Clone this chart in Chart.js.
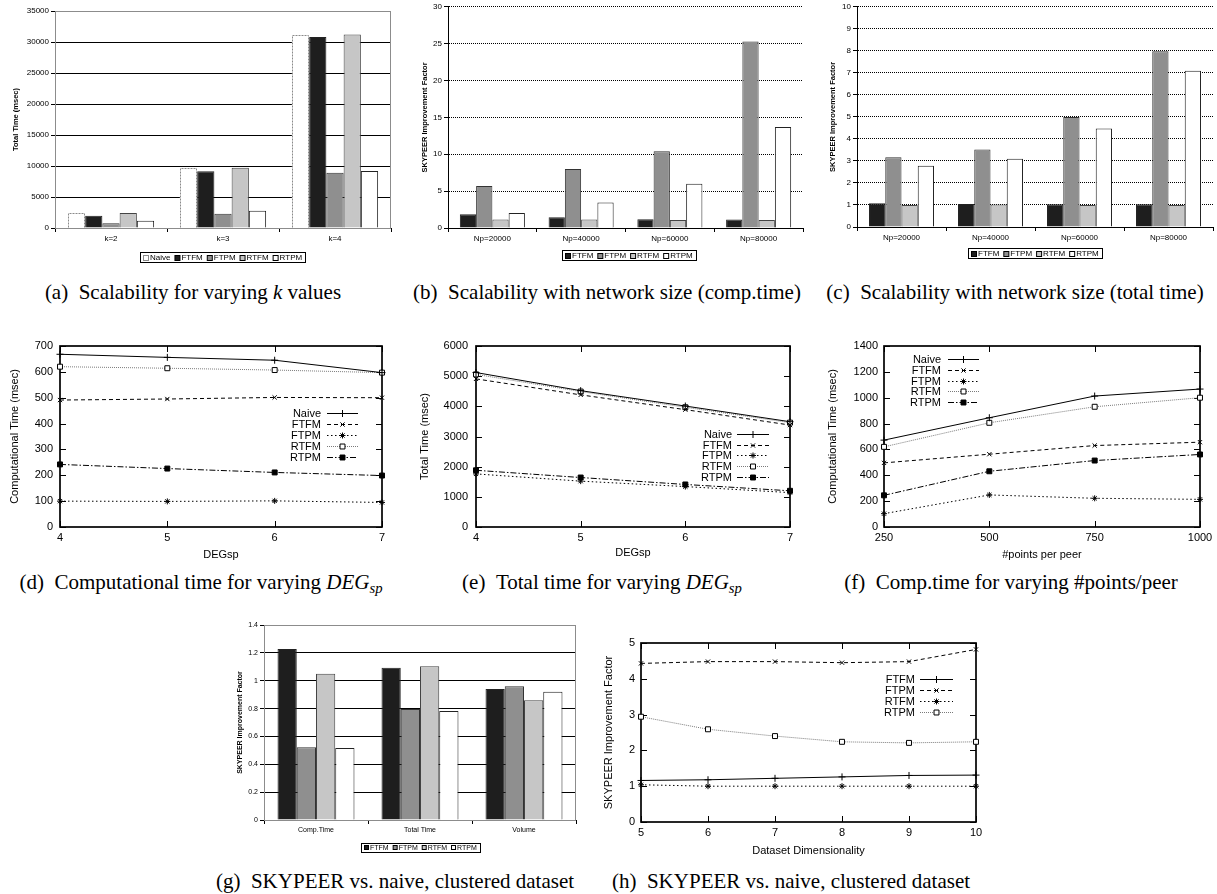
<!DOCTYPE html>
<html>
<head>
<meta charset="utf-8">
<script src="https://cdn.jsdelivr.net/npm/chart.js@4.4.0/dist/chart.umd.min.js"></script>
<style>
  body { margin: 0; background: #fff; }
  #page { position: relative; width: 1217px; height: 894px; overflow: hidden; background: #fff; }
  #page canvas { position: absolute; }
  .cap { position: absolute; font-family: "Liberation Serif", "Times New Roman", serif; font-size: 21px;
         line-height: 24px; white-space: nowrap; transform: translateX(-50%); color: #000; }
  .cap sub { font-size: 70%; vertical-align: -4px; line-height: 0; }
</style>
</head>
<body>
<div id="page">
  <canvas id="chA" width="400" height="268" style="left:0px;top:0px"></canvas>
  <canvas id="chB" width="406" height="268" style="left:400px;top:0px"></canvas>
  <canvas id="chC" width="411" height="268" style="left:806px;top:0px"></canvas>
  <canvas id="chD" width="400" height="240" style="left:0px;top:330px"></canvas>
  <canvas id="chE" width="405" height="240" style="left:400px;top:330px"></canvas>
  <canvas id="chF" width="412" height="240" style="left:805px;top:330px"></canvas>
  <canvas id="chG" width="355" height="245" style="left:225px;top:615px"></canvas>
  <canvas id="chH" width="400" height="228" style="left:590px;top:630px"></canvas>

  <div class="cap" style="left:193px;top:280px">(a)&ensp;Scalability for varying <i>k</i> values</div>
  <div class="cap" style="left:607px;top:280px">(b)&ensp;Scalability with network size (comp.time)</div>
  <div class="cap" style="left:1015px;top:280px">(c)&ensp;Scalability with network size (total time)</div>
  <div class="cap" style="left:201px;top:570px">(d)&ensp;Computational time for varying <i>DEG<sub>sp</sub></i></div>
  <div class="cap" style="left:602px;top:570px">(e)&ensp;Total time for varying <i>DEG<sub>sp</sub></i></div>
  <div class="cap" style="left:1011px;top:570px">(f)&ensp;Comp.time for varying #points/peer</div>
  <div class="cap" style="left:395px;top:869px">(g)&ensp;SKYPEER vs. naive, clustered dataset</div>
  <div class="cap" style="left:791px;top:869px">(h)&ensp;SKYPEER vs. naive, clustered dataset</div>
</div>
<script>
// ---- data ----
const kLabels = ["k=2", "k=3", "k=4"];
const aNaive = [2400, 9700, 31100];
const aFTFM = [1990, 9150, 30800];
const aFTPM = [750, 2300, 8900];
const aRTFM = [2400, 9700, 31200];
const aRTPM = [1150, 2780, 9200];

const npLabels = ["Np=20000", "Np=40000", "Np=60000", "Np=80000"];
const bFTFM = [1.85, 1.45, 1.2, 1.15];
const bFTPM = [5.7, 8.0, 10.4, 25.3];
const bRTFM = [1.15, 1.15, 1.1, 1.1];
const bRTPM = [2.05, 3.45, 6.0, 13.7];

const cFTFM = [1.08, 1.05, 1.03, 1.03];
const cFTPM = [3.17, 3.52, 5.0, 7.98];
const cRTFM = [1.0, 1.02, 1.0, 1.0];
const cRTPM = [2.78, 3.1, 4.47, 7.1];

const degX = [4, 5, 6, 7];
const dNaive = [668, 656, 645, 597];
const dFTFM = [491, 495, 501, 500];
const dFTPM = [100, 99, 101, 95];
const dRTFM = [620, 614, 607, 597];
const dRTPM = [242, 226, 211, 199];

const eNaive = [5120, 4520, 4010, 3490];
const eFTFM = [4910, 4380, 3890, 3380];
const eFTPM = [1760, 1520, 1340, 1140];
const eRTFM = [5060, 4490, 3970, 3460];
const eRTPM = [1880, 1640, 1410, 1200];

const ptsX = [250, 500, 750, 1000];
const fNaive = [672, 845, 1013, 1067];
const fFTFM = [496, 563, 630, 656];
const fFTPM = [103, 248, 222, 214];
const fRTFM = [620, 806, 930, 1000];
const fRTPM = [245, 431, 514, 561];

const gLabels = ["Comp.Time", "Total Time", "Volume"];
const gFTFM = [1.227, 1.093, 0.94];
const gFTPM = [0.522, 0.797, 0.96];
const gRTFM = [1.05, 1.103, 0.859];
const gRTPM = [0.517, 0.782, 0.921];

const dimX = [5, 6, 7, 8, 9, 10];
const hFTFM = [1.16, 1.18, 1.22, 1.26, 1.30, 1.31];
const hFTPM = [4.43, 4.48, 4.48, 4.45, 4.48, 4.82];
const hRTFM = [1.04, 1.0, 1.0, 1.0, 1.0, 1.0];
const hRTPM = [2.94, 2.59, 2.40, 2.24, 2.21, 2.24];

// ---- styles ----
const FONT = "'Liberation Sans', Arial, sans-serif";
const BAR = {
  Naive: { backgroundColor: "#ffffff", borderColor: "#8a8a8a", borderWidth: 0, dashedEdge: true },
  FTFM: { backgroundColor: "#1e1e1e", borderColor: "#222", borderWidth: 1 },
  FTPM: { backgroundColor: "#8f8f8f", borderColor: "#333", borderWidth: 1 },
  RTFM: { backgroundColor: "#c6c6c6", borderColor: "#444", borderWidth: 1 },
  RTPM: { backgroundColor: "#ffffff", borderColor: "#222", borderWidth: 1 },
};
const LINE = {
  solid: { borderColor: "#000", borderDash: [], pointStyle: "cross", pointRadius: 3.5, pointBackgroundColor: "#000" },
  dash: { borderColor: "#000", borderDash: [4, 3], pointStyle: "crossRot", pointRadius: 3, pointBackgroundColor: "#000" },
  dot: { borderColor: "#000", borderDash: [1.5, 2.5], pointStyle: "star", pointRadius: 3, pointBackgroundColor: "#000" },
  grey: { borderColor: "#7a7a7a", borderDash: [1, 1], pointStyle: "rect", pointRadius: 3.5, pointBackgroundColor: "#fff" },
  dashdot: { borderColor: "#000", borderDash: [6, 2, 1.5, 2], pointStyle: "rect", pointRadius: 3.5, pointBackgroundColor: "#000" },
};

// ---- plugins ----
// dotted outline for the Naive bars
const dashedEdge = {
  id: "dashedEdge",
  afterDatasetsDraw(chart) {
    const ctx = chart.ctx;
    chart.data.datasets.forEach((ds, i) => {
      if (!ds.dashedEdge) return;
      ctx.save();
      ctx.strokeStyle = ds.borderColor;
      ctx.lineWidth = 1;
      ctx.setLineDash([2, 1]);
      chart.getDatasetMeta(i).data.forEach((el) => {
        const l = Math.round(el.x - el.width / 2) + 0.5;
        const r = Math.round(el.x + el.width / 2) - 0.5;
        const t = Math.round(el.y) + 0.5;
        ctx.beginPath();
        ctx.moveTo(l, el.base);
        ctx.lineTo(l, t);
        ctx.lineTo(r, t);
        ctx.lineTo(r, el.base);
        ctx.stroke();
      });
      ctx.restore();
    });
  },
};

// grey frame round the plot area (excel style)
const greyFrame = {
  id: "greyFrame",
  beforeDatasetsDraw(chart, args, o) {
    if (!o.on) return;
    const { ctx, chartArea: a } = chart;
    ctx.save();
    ctx.strokeStyle = "#8c8c8c";
    ctx.lineWidth = 1;
    ctx.strokeRect(Math.round(a.left) + 0.5, Math.round(a.top) + 0.5, Math.round(a.right - a.left) - 1, Math.round(a.bottom - a.top));
    ctx.restore();
  },
};

// boxed legend under the bar charts
const boxKey = {
  id: "boxKey",
  afterDraw(chart, args, o) {
    const ctx = chart.ctx;
    ctx.save();
    ctx.font = o.size + "px " + FONT;
    const sq = o.sq, gap = 2, sep = 4, pad = 3;
    const items = chart.data.datasets.map((ds) => ({ ds, w: ctx.measureText(ds.label).width }));
    const total = pad * 2 + items.reduce((s, it) => s + sq + gap + it.w, 0) + sep * (items.length - 1);
    let x = Math.round(o.cx - total / 2);
    const top = Math.round(o.cy - o.h / 2);
    ctx.strokeStyle = "#000";
    ctx.lineWidth = 1;
    ctx.strokeRect(x + 0.5, top + 0.5, Math.round(total), o.h);
    x += pad;
    ctx.textBaseline = "middle";
    ctx.textAlign = "left";
    items.forEach((it) => {
      const sy = Math.round(o.cy - sq / 2) + 0.5;
      ctx.fillStyle = it.ds.backgroundColor;
      ctx.fillRect(x + 0.5, sy, sq, sq);
      ctx.strokeStyle = it.ds.dashedEdge ? it.ds.borderColor : "#000";
      ctx.strokeRect(x + 0.5, sy, sq, sq);
      x += sq + gap;
      ctx.fillStyle = "#000";
      ctx.fillText(it.ds.label, x, o.cy + 1);
      x += it.w + sep;
    });
    ctx.restore();
  },
};

// gnuplot border with inward mirrored ticks
const gnuFrame = {
  id: "gnuFrame",
  beforeDatasetsDraw(chart) {
    const { ctx, chartArea: a, scales } = chart;
    const t = 6;
    ctx.save();
    ctx.strokeStyle = "#000";
    ctx.lineWidth = 1;
    ctx.beginPath();
    scales.x.ticks.forEach((tk) => {
      const px = Math.round(scales.x.getPixelForValue(tk.value)) + 0.5;
      ctx.moveTo(px, a.bottom); ctx.lineTo(px, a.bottom - t);
      ctx.moveTo(px, a.top); ctx.lineTo(px, a.top + t);
    });
    scales.y.ticks.forEach((tk) => {
      const py = Math.round(scales.y.getPixelForValue(tk.value)) + 0.5;
      ctx.moveTo(a.left, py); ctx.lineTo(a.left + t, py);
      ctx.moveTo(a.right, py); ctx.lineTo(a.right - t, py);
    });
    ctx.stroke();
    ctx.lineWidth = 1.7;
    ctx.strokeRect(a.left, a.top, a.right - a.left, a.bottom - a.top);
    ctx.restore();
  },
};

// gnuplot style key: label, then line sample with its point
const gnuKey = {
  id: "gnuKey",
  afterDatasetsDraw(chart, args, o) {
    const ctx = chart.ctx;
    ctx.save();
    ctx.font = "11px " + FONT;
    ctx.textAlign = "right";
    ctx.textBaseline = "middle";
    chart.data.datasets.forEach((ds, i) => {
      const yy = Math.round(o.y + i * o.dy) + 0.5;
      ctx.fillStyle = "#000";
      ctx.fillText(ds.label, o.x, yy);
      const x1 = o.x + o.gap, x2 = x1 + o.len;
      ctx.strokeStyle = ds.borderColor;
      ctx.lineWidth = ds.borderWidth;
      ctx.setLineDash(ds.borderDash || []);
      ctx.beginPath();
      ctx.moveTo(x1, yy);
      ctx.lineTo(x2, yy);
      ctx.stroke();
      ctx.setLineDash([]);
      ctx.strokeStyle = ds.pointBorderColor;
      ctx.fillStyle = ds.pointBackgroundColor;
      ctx.lineWidth = 1;
      Chart.helpers.drawPoint(ctx, { pointStyle: ds.pointStyle, radius: ds.pointRadius, borderWidth: 1, rotation: 0 }, (x1 + x2) / 2, yy);
    });
    ctx.restore();
  },
};

// ---- chart builders ----
function barChart(id, labels, series, o) {
  new Chart(document.getElementById(id), {
    type: "bar",
    data: {
      labels: labels,
      datasets: series.map(([name, data]) => Object.assign({
        label: name,
        data: data,
        barPercentage: 1,
        categoryPercentage: o.cat,
      }, BAR[name])),
    },
    options: {
      responsive: false,
      animation: false,
      devicePixelRatio: 1,
      layout: { padding: { top: o.top, right: o.right, left: 0, bottom: 0 } },
      plugins: {
        legend: { display: false },
        tooltip: { enabled: false },
        boxKey: o.key,
        greyFrame: { on: o.frame },
      },
      scales: {
        x: {
          grid: { offset: true, drawOnChartArea: false, drawTicks: true, tickLength: 4, color: "#000" },
          border: { color: "#000", width: 1 },
          ticks: { font: { family: FONT, size: o.fs }, color: "#000", padding: 2, maxRotation: 0 },
          afterFit: (s) => { s.height = o.xH; },
        },
        y: {
          min: 0,
          max: o.max,
          ticks: {
            stepSize: o.step, autoSkip: false, padding: 2,
            font: { family: FONT, size: o.fs }, color: "#000",
            callback: (v) => String(Number(v.toFixed(2))),
          },
          grid: { color: "#000", lineWidth: 1, tickLength: 4, tickColor: "#000" },
          border: { color: "#000", width: 1, dash: o.dash },
          title: {
            display: true, text: o.ytitle, color: "#000",
            font: { family: FONT, size: o.tfs, weight: "bold" },
            padding: { top: o.tpad, bottom: 0 },
          },
          afterFit: (s) => { s.width = o.yW; },
        },
      },
    },
    plugins: [greyFrame, dashedEdge, boxKey],
  });
}

function lineChart(id, xs, series, o) {
  new Chart(document.getElementById(id), {
    type: "line",
    data: {
      datasets: series.map(([name, ys, sty]) => Object.assign({
        label: name,
        data: ys.map((y, i) => ({ x: xs[i], y: y })),
        borderWidth: 1,
        pointBorderWidth: 1,
        pointBorderColor: "#000",
        tension: 0,
        fill: false,
        clip: false,
      }, LINE[sty])),
    },
    options: {
      responsive: false,
      animation: false,
      devicePixelRatio: 1,
      layout: { padding: { top: o.top, right: o.right, left: 0, bottom: 0 } },
      plugins: {
        legend: { display: false },
        tooltip: { enabled: false },
        gnuKey: o.key,
      },
      scales: {
        x: {
          type: "linear",
          min: o.xmin,
          max: o.xmax,
          grid: { display: false, drawTicks: false },
          border: { display: false },
          ticks: { stepSize: o.xstep, font: { family: FONT, size: 11 }, color: "#000", padding: 4, maxRotation: 0,
                   callback: (v) => String(v) },
          title: { display: true, text: o.xtitle, color: "#000", font: { family: FONT, size: 11 },
                   padding: { top: 0, bottom: o.xtpad } },
          afterFit: (s) => { s.height = o.xH; },
        },
        y: {
          min: 0,
          max: o.max,
          grid: { display: false, drawTicks: false },
          border: { display: false },
          ticks: { stepSize: o.step, autoSkip: false, padding: o.ypad, font: { family: FONT, size: 11 }, color: "#000",
                   callback: (v) => String(v) },
          title: { display: true, text: o.ytitle, color: "#000", font: { family: FONT, size: 11 },
                   padding: { top: o.tpad, bottom: 0 } },
          afterFit: (s) => { s.width = o.yW; },
        },
      },
    },
    plugins: [gnuFrame, gnuKey],
  });
}

// (a)
barChart("chA", kLabels,
  [["Naive", aNaive], ["FTFM", aFTFM], ["FTPM", aFTPM], ["RTFM", aRTFM], ["RTPM", aRTPM]],
  { cat: 0.77, top: 11, right: 9, xH: 40, yW: 55, max: 35000, step: 5000, fs: 8, tfs: 7.5, tpad: 11.5,
    ytitle: "Total Time (msec)", frame: true, key: { cx: 223, cy: 257, h: 10, sq: 5, size: 8 } });

// (b)
barChart("chB", npLabels,
  [["FTFM", bFTFM], ["FTPM", bFTPM], ["RTFM", bRTFM], ["RTPM", bRTPM]],
  { cat: 0.733, top: 6, right: 3, xH: 40, yW: 48, max: 30, step: 5, fs: 8, tfs: 7.5, tpad: 20.5, dash: [1, 1],
    ytitle: "SKYPEER Improvement Factor", frame: false, key: { cx: 229, cy: 255, h: 10, sq: 5, size: 8 } });

// (c)
barChart("chC", npLabels,
  [["FTFM", cFTFM], ["FTPM", cFTPM], ["RTFM", cRTFM], ["RTPM", cRTPM]],
  { cat: 0.73, top: 6, right: 4, xH: 41, yW: 51, max: 10, step: 1, fs: 8, tfs: 7.5, tpad: 22.5, dash: [1, 1],
    ytitle: "SKYPEER Improvement Factor", frame: false, key: { cx: 229, cy: 253, h: 10, sq: 5, size: 8 } });

// (d)
lineChart("chD", degX,
  [["Naive", dNaive, "solid"], ["FTFM", dFTFM, "dash"], ["FTPM", dFTPM, "dot"], ["RTFM", dRTFM, "grey"], ["RTPM", dRTPM, "dashdot"]],
  { top: 16, right: 18, xH: 43, yW: 60, xmin: 4, xmax: 7, xstep: 1, max: 700, step: 100, ypad: 7, tpad: 8.4, xtpad: 8.4,
    xtitle: "DEGsp", ytitle: "Computational Time (msec)", key: { x: 321, y: 83, dy: 11, gap: 6, len: 31 } });

// (e)
lineChart("chE", degX,
  [["Naive", eNaive, "solid"], ["FTFM", eFTFM, "dash"], ["FTPM", eFTPM, "dot"], ["RTFM", eRTFM, "grey"], ["RTPM", eRTPM, "dashdot"]],
  { top: 16, right: 15, xH: 43, yW: 76, xmin: 4, xmax: 7, xstep: 1, max: 6000, step: 1000, ypad: 8, tpad: 18.4, xtpad: 10.4,
    xtitle: "DEGsp", ytitle: "Total Time (msec)", key: { x: 332, y: 104, dy: 10.7, gap: 5, len: 32 } });

// (f)
lineChart("chF", ptsX,
  [["Naive", fNaive, "solid"], ["FTFM", fFTFM, "dash"], ["FTPM", fFTPM, "dot"], ["RTFM", fRTFM, "grey"], ["RTPM", fRTPM, "dashdot"]],
  { top: 16, right: 17, xH: 43, yW: 79, xmin: 250, xmax: 1000, xstep: 250, max: 1400, step: 200, ypad: 6, tpad: 21.4, xtpad: 8.4,
    xtitle: "#points per peer", ytitle: "Computational Time (msec)", key: { x: 136, y: 29, dy: 10.8, gap: 7, len: 31 } });

// (g)
barChart("chG", gLabels,
  [["FTFM", gFTFM], ["FTPM", gFTPM], ["RTFM", gRTFM], ["RTPM", gRTPM]],
  { cat: 0.74, top: 10, right: 4, xH: 40, yW: 39, max: 1.4, step: 0.2, fs: 7, tfs: 7, tpad: 10.8,
    ytitle: "SKYPEER Improvement Factor", frame: true, key: { cx: 195.5, cy: 232, h: 9, sq: 4, size: 7 } });

// (h)
lineChart("chH", dimX,
  [["FTFM", hFTFM, "solid"], ["FTPM", hFTPM, "dash"], ["RTFM", hRTFM, "dot"], ["RTPM", hRTPM, "grey"]],
  { top: 13, right: 14, xH: 36, yW: 51, xmin: 5, xmax: 10, xstep: 1, max: 5, step: 1, ypad: 6, tpad: 12.4, xtpad: 0.4,
    xtitle: "Dataset Dimensionality", ytitle: "SKYPEER Improvement Factor", key: { x: 325, y: 49, dy: 10.9, gap: 5, len: 33 } });
</script>
</body>
</html>
